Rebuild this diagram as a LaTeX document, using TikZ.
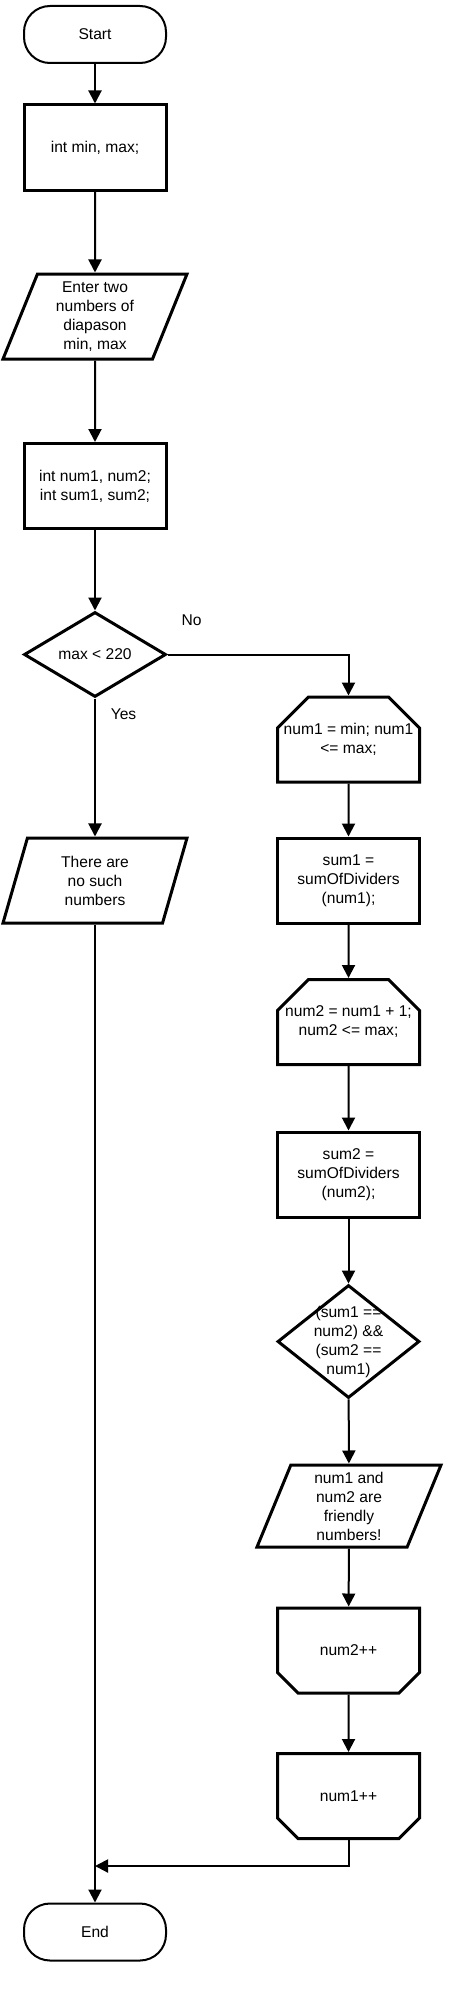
\documentclass[tikz,border=0pt]{standalone}
\usepackage{fontspec}
\setmainfont{Liberation Sans}
\usetikzlibrary{shapes.geometric,shapes.misc,arrows.meta}
\tikzset{%
  chart/.style = {
    x=0.5pt, y=-0.5pt,
    every node/.style = {align=center, font=\fontsize{7.8}{9.5}\selectfont},
    flow/.style = {draw, line width=1pt, -{Triangle[length=6.5pt,width=6.5pt]}},
    term/.style = {draw, line width=1pt, rounded corners=13pt,
      minimum width=71pt, minimum height=28.5pt},
    proc/.style = {draw, line width=1.5pt, minimum width=71pt, minimum height=42.5pt},
    io/.style = {draw, line width=1.5pt, trapezium, trapezium left angle=63.7,
      trapezium right angle=116.3, trapezium stretches body,
      minimum width=92pt, minimum height=42.5pt, inner sep=0pt},
    cond/.style = {draw, line width=1.5pt, diamond, minimum width=71pt,
      minimum height=42.5pt, inner sep=0pt},
    loopbeg/.style = {draw, line width=1.5pt, chamfered rectangle,
      chamfered rectangle corners={north west,north east},
      chamfered rectangle xsep=8pt, chamfered rectangle ysep=7.5pt,
      minimum width=71pt, minimum height=42.5pt, inner xsep=-6pt, inner ysep=0pt},
    loopend/.style = {loopbeg, chamfered rectangle corners={south west,south east}}
  }
}
\begin{document}
\begin{tikzpicture}[chart]
\useasboundingbox (0,0) rectangle (452,1996);
\node[term] (start) at (95,34.5) {Start};
\node[proc] (decl1) at (95,147.5) {int min, max;};
\node[io] (input) at (95,316.5) {Enter two\\numbers of\\diapason\\min, max};
\node[proc] (decl2) at (95,486) {int num1, num2;\\int sum1, sum2;};
\node[cond] (cond1) at (95,654.5) {max < 220};
\node[io] (none) at (95,880.5) {There are\\no such\\numbers};
\node[loopbeg] (loop1) at (348.5,739.5) {num1 = min; num1\\<= max;};
\node[proc] (sum1) at (348.5,880.5) {sum1 =\\sumOfDividers\\(num1);};
\node[loopbeg] (loop2) at (348.5,1022) {num2 = num1 + 1;\\num2 <= max;};
\node[proc] (sum2) at (348.5,1174.5) {sum2 =\\sumOfDividers\\(num2);};
\node[cond, minimum height=56.5pt] (cond2) at (348.5,1341.5) {};
\node (cond2t) at (cond2) {(sum1 ==\\num2) \&\&\\(sum2 ==\\num1)};
\node[io, minimum height=41pt] (friends) at (349,1506) {num1 and\\num2 are\\friendly\\numbers!};
\node[loopend] (inc2) at (348.5,1650.5) {num2++};
\node[loopend] (inc1) at (348.5,1796) {num1++};
\node[term] (end) at (95,1932) {End};
\coordinate (join) at (95,1866);
\node (no) at (191.5,620) {No};
\node (yes) at (123.5,714.5) {Yes};
\draw[flow] (start) -- (decl1);
\draw[flow] (decl1) -- (input);
\draw[flow] (input) -- (decl2);
\draw[flow] (decl2) -- (cond1);
\draw[flow] (cond1.east) -| (loop1.north);
\draw[flow] (cond1.south) -- (none);
\draw[flow] (loop1) -- (sum1);
\draw[flow] (sum1) -- (loop2);
\draw[flow] (loop2) -- (sum2);
\draw[flow] (sum2) -- (cond2);
\draw[flow] (cond2) -- (friends);
\draw[flow] (friends) -- (inc2);
\draw[flow] (inc2) -- (inc1);
\draw[flow] (inc1.south) |- (join);
\draw[flow] (none) -- (end);
\end{tikzpicture}
\end{document}
